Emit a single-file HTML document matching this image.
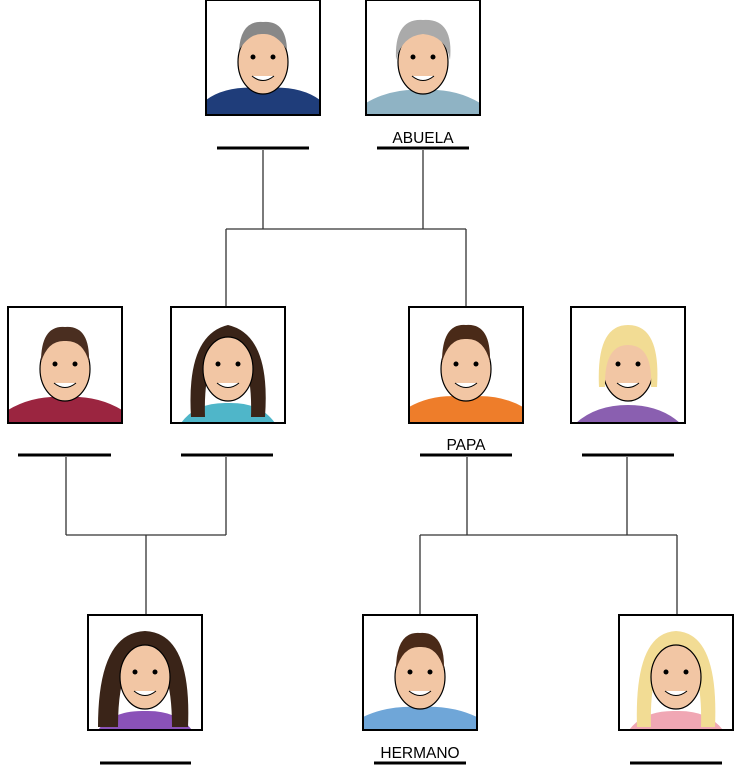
<!DOCTYPE html>
<html><head><style>body{margin:0;background:#fff}svg{display:block}</style></head><body>
<svg width="734" height="766" viewBox="0 0 734 766" xmlns="http://www.w3.org/2000/svg" font-family="Liberation Sans, sans-serif">
<defs>
<g id="face">
<ellipse cx="57" cy="62" rx="25" ry="32" fill="#f2c6a4" stroke="#000" stroke-width="1.2"/>
<circle cx="47" cy="57" r="2.5" fill="#000"/><circle cx="67" cy="57" r="2.5" fill="#000"/>
<path d="M46 76 Q57 85 68 76" fill="#fff" stroke="#000"/>
</g>
</defs>
<g stroke="#333" stroke-width="1.3" fill="none">
<path d="M263 150V229M423 150V229M226 229H466M226 229V307M466 229V307"/>
<path d="M66 457V535M226 457V535M66 535H226M146 535V615"/>
<path d="M467 457V535M627 457V535M420 535H677M420 535V615M677 535V615"/>
</g>
<g transform="translate(206,0)"><rect width="114" height="115" fill="#fff"/>
<path d="M0 115 L0 100 Q20 85 57 88 Q94 85 114 100 L114 115Z" fill="#1f3d7a"/>
<use href="#face"/><path d="M33 50 Q35 20 57 22 Q80 20 81 50 Q70 33 57 34 Q44 33 33 50Z" fill="#888"/>
<rect width="114" height="115" fill="none" stroke="#000" stroke-width="2"/></g>
<g transform="translate(366,0)"><rect width="114" height="115" fill="#fff"/>
<path d="M0 115 L0 103 Q25 88 57 90 Q89 88 114 103 L114 115Z" fill="#8fb3c4"/>
<use href="#face"/><path d="M30 60 Q28 18 57 20 Q88 18 84 60 Q80 36 57 34 Q36 36 30 60Z" fill="#aaa"/>
<rect width="114" height="115" fill="none" stroke="#000" stroke-width="2"/></g>
<g transform="translate(8,307)"><rect width="114" height="116" fill="#fff"/>
<path d="M0 116 L0 103 Q25 88 57 90 Q89 88 114 103 L114 116Z" fill="#9b2540"/>
<use href="#face"/><path d="M33 55 Q33 18 57 20 Q82 18 81 55 Q75 33 57 34 Q40 33 33 55Z" fill="#4a2e20"/>
<rect width="114" height="116" fill="none" stroke="#000" stroke-width="2"/></g>
<g transform="translate(171,307)"><rect width="114" height="116" fill="#fff"/>
<path d="M10 116 Q25 95 57 96 Q89 95 104 116Z" fill="#4fb6c9"/>
<path d="M20 110 Q15 28 57 18 Q100 28 94 110 L80 110 Q82 48 57 36 Q32 48 34 110Z" fill="#3a2418"/>
<use href="#face"/>
<rect width="114" height="116" fill="none" stroke="#000" stroke-width="2"/></g>
<g transform="translate(409,307)"><rect width="114" height="116" fill="#fff"/>
<path d="M0 116 L0 100 Q25 86 57 90 Q89 86 114 100 L114 116Z" fill="#ee7d2a"/>
<use href="#face"/><path d="M33 55 Q33 16 57 18 Q82 16 81 55 Q75 31 57 32 Q40 31 33 55Z" fill="#4a2a18"/>
<rect width="114" height="116" fill="none" stroke="#000" stroke-width="2"/></g>
<g transform="translate(571,307)"><rect width="114" height="116" fill="#fff"/>
<path d="M5 116 Q25 98 57 98 Q89 98 109 116Z" fill="#8a5fb0"/>
<use href="#face"/><path d="M28 80 Q25 18 57 18 Q90 18 86 80 L80 80 Q82 38 57 38 Q33 38 34 80Z" fill="#f2dc94"/>
<rect width="114" height="116" fill="none" stroke="#000" stroke-width="2"/></g>
<g transform="translate(88,615)"><rect width="114" height="115" fill="#fff"/>
<path d="M10 115 Q25 95 57 96 Q89 95 104 115Z" fill="#8a52b8"/>
<path d="M10 112 Q10 18 57 16 Q104 18 100 112 L84 112 Q84 43 57 38 Q30 43 30 112Z" fill="#3a2418"/>
<use href="#face"/>
<rect width="114" height="115" fill="none" stroke="#000" stroke-width="2"/></g>
<g transform="translate(363,615)"><rect width="114" height="115" fill="#fff"/>
<path d="M0 115 L0 102 Q25 90 57 92 Q89 90 114 102 L114 115Z" fill="#6fa6d8"/>
<use href="#face"/><path d="M33 55 Q33 16 57 18 Q82 16 81 55 Q75 31 57 32 Q40 31 33 55Z" fill="#4a2a18"/>
<rect width="114" height="115" fill="none" stroke="#000" stroke-width="2"/></g>
<g transform="translate(619,615)"><rect width="114" height="115" fill="#fff"/>
<path d="M10 115 Q25 95 57 96 Q89 95 104 115Z" fill="#f0a7b4"/>
<path d="M18 112 Q15 18 57 16 Q100 18 96 112 L82 112 Q84 43 57 38 Q30 43 32 112Z" fill="#f2dc94"/>
<use href="#face"/>
<rect width="114" height="115" fill="none" stroke="#000" stroke-width="2"/></g>
<g stroke="#000" stroke-width="3">
<path d="M217 148H309M377 148H469"/>
<path d="M18 455H111M181 455H273M420 455H512M582 455H674"/>
<path d="M100 763H191M374 763H466M630 763H722"/>
</g>
<g font-size="15.5" text-anchor="middle" fill="#000">
<text x="423" y="143">ABUELA</text>
<text x="466" y="450">PAPA</text>
<text x="420" y="758">HERMANO</text>
</g>
</svg>
</body></html>
